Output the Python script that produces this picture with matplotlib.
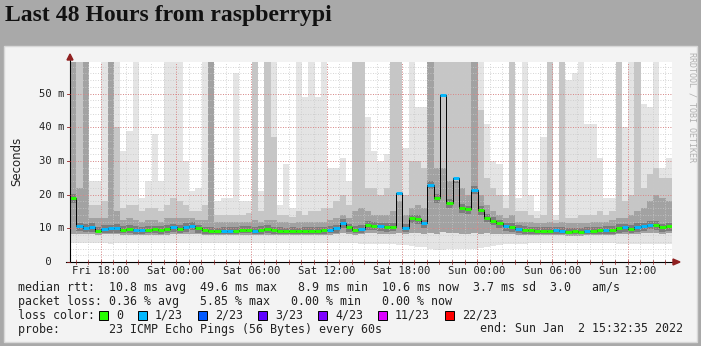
import numpy as np
import matplotlib.pyplot as plt
from matplotlib.patches import Rectangle

# 30-minute bins from Fri 15:32:35 to Sun 15:32:35 (values in ms)
median = [19.0, 10.6, 10.2, 10.4, 9.3, 9.9, 10.0, 10.1, 9.6, 9.8,
          9.5, 9.4, 9.6, 9.7, 9.5, 9.8, 10.3, 9.9, 10.4, 10.8,
          10.0, 9.4, 9.2, 9.1, 9.3, 9.2, 9.3, 9.6, 9.6, 9.3,
          9.5, 9.8, 9.4, 9.2, 9.1, 9.2, 9.1, 9.2, 9.3, 9.3,
          9.4, 9.6, 10.0, 11.6, 10.3, 9.6, 9.9, 11.0, 10.8, 10.6,
          10.4, 10.5, 20.4, 10.2, 13.0, 12.8, 11.5, 23.0, 19.0, 49.6,
          17.5, 25.0, 16.0, 15.6, 21.5, 15.4, 13.2, 12.3, 11.5, 10.6,
          10.4, 9.8, 9.6, 9.4, 9.3, 9.2, 9.2, 9.4, 9.2, 9.0,
          9.1, 9.0, 9.2, 9.3, 9.4, 9.5, 9.6, 10.1, 10.3, 9.9,
          10.4, 10.6, 11.1, 11.0, 10.3, 10.6]
loss = [0, 1, 1, 1, 0, 1, 1, 1, 0, 0,
        1, 1, 0, 0, 0, 0, 1, 0, 1, 1,
        0, 0, 0, 0, 1, 1, 0, 0, 0, 1,
        0, 0, 0, 0, 0, 0, 0, 0, 0, 0,
        0, 1, 1, 1, 0, 0, 1, 0, 0, 1,
        0, 0, 1, 1, 0, 0, 1, 1, 0, 1,
        0, 1, 0, 0, 1, 0, 0, 0, 0, 1,
        0, 1, 0, 0, 0, 0, 0, 1, 1, 0,
        0, 0, 1, 0, 0, 1, 0, 0, 1, 0,
        1, 1, 1, 0, 0, 0]
smoke_low = [5.5, 5.5, 5.5, 5.5, 5.6, 5.5, 5.4, 5.5, 5.6, 5.5,
             5.6, 5.6, 5.5, 5.6, 5.6, 5.5, 5.5, 5.5, 5.5, 5.6,
             5.6, 5.6, 5.5, 5.6, 5.6, 5.6, 5.6, 5.6, 5.6, 5.5,
             5.6, 5.5, 5.6, 5.6, 5.6, 5.6, 5.6, 5.6, 5.6, 5.6,
             5.6, 5.5, 5.5, 5.5, 5.5, 5.5, 5.4, 5.4, 5.4, 5.4,
             5.4, 5.2, 5.0, 5.0, 4.8, 4.5, 4.5, 4.0, 3.5, 3.5,
             3.8, 3.8, 4.0, 4.0, 4.0, 4.2, 4.5, 4.8, 5.0, 5.2,
             5.2, 5.4, 5.4, 5.5, 5.5, 5.5, 5.5, 5.5, 5.5, 5.5,
             5.5, 5.5, 5.5, 5.5, 5.5, 5.5, 5.5, 5.4, 5.4, 5.4,
             5.4, 5.3, 5.3, 5.3, 5.3, 5.3]
smoke_p25 = [8.2, 8.3, 8.3, 8.2, 8.1, 8.2, 8.2, 8.2, 8.1, 8.1,
             8.0, 8.0, 8.1, 8.1, 8.0, 8.1, 8.3, 8.2, 8.3, 8.4,
             8.2, 8.0, 7.9, 7.9, 8.0, 7.9, 8.0, 8.1, 8.1, 8.0,
             8.0, 8.1, 8.0, 7.9, 7.9, 7.9, 7.9, 7.9, 8.0, 8.0,
             8.0, 8.1, 8.2, 8.6, 8.3, 8.1, 8.2, 8.5, 8.5, 8.4,
             8.3, 8.3, 8.6, 8.2, 8.6, 8.5, 8.3, 8.5, 8.4, 8.8,
             8.5, 8.6, 8.4, 8.4, 8.6, 8.4, 8.5, 8.4, 8.3, 8.2,
             8.2, 8.1, 8.0, 8.0, 7.9, 7.9, 7.9, 8.0, 7.9, 7.8,
             7.8, 7.8, 7.9, 7.9, 8.0, 8.0, 8.0, 8.2, 8.3, 8.2,
             8.4, 8.5, 8.6, 8.6, 8.4, 8.5]
smoke_p75 = [60, 22, 60, 13, 13, 13, 60, 15, 12.5, 13,
             12.5, 12, 12.5, 12.5, 12, 13, 13, 13, 13, 13,
             12.5, 12.5, 60, 12, 12, 12, 12, 12, 12, 12.5,
             12, 12.5, 12.5, 12, 12, 11.5, 12, 12, 12, 12,
             12, 12.5, 13, 14, 13, 15, 16, 15, 14, 14,
             14, 15, 18, 14, 16, 17, 16, 60, 28, 28,
             24, 24, 22, 20, 60, 20, 17, 15, 14, 13,
             14, 12, 12, 12, 11.5, 11.5, 12, 11.5, 12, 11.5,
             11.5, 11.5, 11.5, 12, 12, 12, 12.5, 13, 13, 14,
             15, 16, 18, 20, 19, 18]
smoke_p90 = [60, 60, 60, 17, 17, 18, 60, 40, 16, 17,
             17, 15, 16, 16, 15, 17, 19, 18, 17, 15,
             15, 17, 60, 14, 14, 14, 14, 14, 14.5, 60,
             15, 60, 37, 14, 14, 13.5, 15, 14, 15, 15,
             16, 16, 18, 20, 17, 60, 60, 22, 22, 20,
             22, 60, 60, 20, 30, 30, 28, 60, 60, 60,
             60, 60, 60, 60, 60, 45, 25, 22, 20, 16,
             60, 15, 15, 14, 13, 14, 60, 12.5, 60, 13,
             13, 14, 14, 14, 15, 14, 15, 60, 18, 20,
             60, 22, 26, 28, 25, 25]
smoke_top = [60, 60, 60, 24, 24, 60, 60, 60, 33, 39,
             60, 19, 24, 38, 24, 60, 60, 60, 30, 21,
             22, 60, 60, 18, 19, 19, 56, 18, 18, 60,
             21, 60, 60, 17, 29, 16, 60, 49, 60, 49,
             60, 28, 28, 31, 24, 60, 60, 43, 33, 30,
             32, 60, 60, 34, 60, 46, 46, 60, 60, 60,
             60, 60, 60, 60, 60, 60, 41, 30, 29, 20,
             60, 19, 60, 20, 15, 37, 60, 14, 60, 54,
             56, 60, 41, 41, 31, 19, 19, 60, 40, 60,
             60, 47, 46, 60, 28, 31]

xticks = [2.457 + 6 * k for k in range(8)]
xlabels = ['Fri 18:00', 'Sat 00:00', 'Sat 06:00', 'Sat 12:00',
           'Sat 18:00', 'Sun 00:00', 'Sun 06:00', 'Sun 12:00']
yticks = [0, 10, 20, 30, 40, 50]

loss_labels = ['0', '1/23', '2/23', '3/23', '4/23', '11/23', '22/23']
loss_colors = ['#26ff00', '#00b8ff', '#0059ff', '#5e00ff', '#7e00ff', '#dd00ff', '#ff0000']

W, H = 701, 346
MONO = 'DejaVu Sans Mono'

def fx(px):
    return px / W

def fy(py):
    return 1 - py / H

fig = plt.figure(figsize=(W / 100, H / 100), dpi=100)
fig.patch.set_facecolor('#a9a9a9')

# light panel behind the graph
fig.patches.append(Rectangle((fx(4), fy(342)), fx(697) - fx(4), fy(46) - fy(342),
                             transform=fig.transFigure, facecolor='#f3f3f3',
                             edgecolor='#d8d8d8', lw=1, zorder=-5))

fig.text(fx(5), fy(16), 'Last 48 Hours from raspberrypi', family='Liberation Serif',
         weight='bold', fontsize=17.1, va='center', ha='left', color='#111111')

ax = fig.add_axes([fx(70), fy(262), (672 - 70) / W, (262 - 62) / H])
ax.set_zorder(1)
ax.set_facecolor('white')
ax.set_xlim(0, 48)
ax.set_ylim(0, 59.4)

t = (np.arange(len(median)) + 0.5) * 0.5
low = np.array(smoke_low)
p25 = np.array(smoke_p25)
p75 = np.array(smoke_p75)
p90 = np.array(smoke_p90)
top = np.array(smoke_top)
med = np.array(median)

# smoke layers
ax.bar(t, top - low, bottom=low, width=0.5, color='#e4e4e4', lw=0, zorder=1)
ax.bar(t, p90 - p25, bottom=p25, width=0.5, color='#c6c6c6', lw=0, zorder=1.1)
ax.bar(t, p75 - p25, bottom=p25, width=0.5, color='#a2a2a2', lw=0, zorder=1.2)
core_lo = np.maximum(p25 + 0.4, med - 1.4)
core_hi = np.minimum(p75, med + 1.1)
ax.bar(t, np.clip(core_hi - core_lo, 0, None), bottom=core_lo, width=0.5,
       color='#7c7c7c', lw=0, zorder=1.3)

# grid
for h in np.arange(0.457, 48, 1.0):
    ax.axvline(h, color='#c8c8c8', lw=0.6, ls=(0, (1, 2)), zorder=2)
for v in np.arange(2, 60, 2):
    ax.axhline(v, color='#c8c8c8', lw=0.6, ls=(0, (1, 2)), zorder=2)
for h in xticks:
    ax.axvline(h, color='#e07070', lw=0.6, ls=(0, (1, 2)), zorder=2.1)
for v in yticks[1:]:
    ax.axhline(v, color='#e07070', lw=0.6, ls=(0, (1, 2)), zorder=2.1)

# median line
ax.step(t, med, where='mid', color='black', lw=0.7, zorder=3)
cols = [loss_colors[k] for k in loss]
ax.hlines(med, t - 0.25, t + 0.25, colors=cols, lw=2.1, zorder=4)

for s in ax.spines.values():
    s.set_visible(False)
ax.set_xticks([])
ax.set_yticks([])

# axes with arrows and ticks
fig.add_artist(plt.Line2D([fx(70), fx(70)], [fy(262), fy(60)], color='black', lw=0.8, zorder=5))
fig.add_artist(plt.Line2D([fx(66), fx(673)], [fy(262), fy(262)], color='black', lw=0.8, zorder=5))
fig.add_artist(plt.Polygon([[fx(67), fy(60)], [fx(73), fy(60)], [fx(70), fy(54)]],
                           closed=True, transform=fig.transFigure, color='#902020', zorder=5))
fig.add_artist(plt.Polygon([[fx(673), fy(259)], [fx(673), fy(265)], [fx(680), fy(262)]],
                           closed=True, transform=fig.transFigure, color='#902020', zorder=5))
for h in np.arange(0.457, 48, 1.0):
    px = 70 + h / 48 * 602
    fig.add_artist(plt.Line2D([fx(px), fx(px)], [fy(260), fy(264)], color='#902020',
                              lw=0.5, zorder=5))

# tick labels
for h, lab in zip(xticks, xlabels):
    px = 70 + h / 48 * 602
    fig.text(fx(px), fy(271), lab, family=MONO, fontsize=7.6, ha='center', va='center',
             color='#222222')
for v in yticks:
    py = 262 - v / 59.4 * 200
    lab = '%2d m' % v if v else ' 0'
    fig.text(fx(39), fy(py), lab, family=MONO, fontsize=7.6, ha='left', va='center',
             color='#222222')
    fig.add_artist(plt.Line2D([fx(67), fx(70)], [fy(py), fy(py)], color='#902020', lw=0.6,
                              zorder=5))

fig.text(fx(17), fy(161), 'Seconds', rotation=90, fontsize=8.5, ha='center', va='center',
         color='#222222')
fig.text(fx(692), fy(52), 'RRDTOOL / TOBI OETIKER', rotation=270, family=MONO,
         fontsize=6, ha='center', va='top', color='#b0b0b0')

# legend
lines = [
    'median rtt:  10.8 ms avg  49.6 ms max   8.9 ms min  10.6 ms now  3.7 ms sd  3.0   am/s',
    'packet loss: 0.36 % avg   5.85 % max   0.00 % min   0.00 % now',
    'loss color:',
    'probe:       23 ICMP Echo Pings (56 Bytes) every 60s',
]
for i, s in enumerate(lines):
    fig.text(fx(18), fy(288 + 13.7 * i), s, family=MONO, fontsize=8.37, ha='left',
             va='center', color='#222222')
fig.text(fx(683), fy(329), 'end: Sun Jan  2 15:32:35 2022', family=MONO, fontsize=8.37,
         ha='right', va='center', color='#222222')

bx = 99
for lab, c in zip(loss_labels, loss_colors):
    fig.patches.append(Rectangle((fx(bx), fy(320)), 9 / W, 9 / H, transform=fig.transFigure,
                                 facecolor=c, edgecolor='black', lw=0.7))
    fig.text(fx(bx + 17), fy(315.4), lab, family=MONO, fontsize=8.37, ha='left',
             va='center', color='#222222')
    bx = bx + 17 + 7 * len(lab) + 15

fig.savefig('out.png', dpi=100)
